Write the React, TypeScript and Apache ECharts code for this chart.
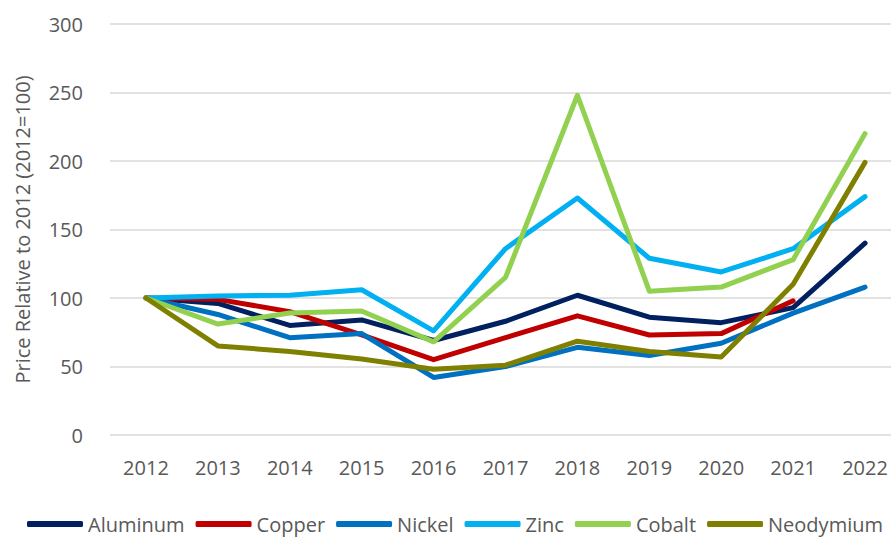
import React, { useEffect, useRef } from "react";
import * as echarts from "echarts";

const years = ["2012", "2013", "2014", "2015", "2016", "2017", "2018", "2019", "2020", "2021", "2022"];
const aluminum = [100, 96, 80, 84, 69, 83, 102, 86, 82, 93, 140];
const copper = [100, 99, 90, 73, 55, 71, 87, 73, 74, 98, null];
const nickel = [100, 88, 71, 74, 42, 50, 64, 58, 67, 89, 108];
const zinc = [100, 101.5, 102, 106, 76, 136, 173, 129, 119, 136, 174];
const cobalt = [100, 81, 89, 90.5, 68, 115, 248, 105, 108, 128, 220];
const neodymium = [100, 65, 61, 55.5, 48, 51, 68.5, 61, 57, 110, 199];

const seriesDefs = [
  { name: "Aluminum", data: aluminum, color: "#002060" },
  { name: "Copper", data: copper, color: "#C00000" },
  { name: "Nickel", data: nickel, color: "#0070C0" },
  { name: "Zinc", data: zinc, color: "#00B0F0" },
  { name: "Cobalt", data: cobalt, color: "#92D050" },
  { name: "Neodymium", data: neodymium, color: "#808000" },
];

const FONT = "Open Sans";
const TXT = "#595959";

export default function App() {
  const ref = useRef<HTMLDivElement>(null);
  useEffect(() => {
    if (!ref.current) return;
    const chart = echarts.init(ref.current, undefined, { renderer: "svg" });
    chart.setOption({
      animation: false,
      textStyle: { fontFamily: FONT },
      grid: { left: 110, right: 0, top: 24, bottom: 104 },
      legend: {
        top: 509,
        left: 22,
        icon: "roundRect",
        itemWidth: 56,
        itemHeight: 6,
        itemGap: 11,
        textStyle: { fontFamily: FONT, fontSize: 20, color: TXT },
        data: seriesDefs.map((s) => s.name),
      },
      xAxis: {
        type: "category",
        data: years,
        boundaryGap: true,
        axisLine: { show: false },
        axisTick: { show: false },
        axisLabel: { fontFamily: FONT, fontSize: 20, color: TXT, margin: 22 },
      },
      yAxis: {
        type: "value",
        min: 0,
        max: 300,
        interval: 50,
        name: "Price Relative to 2012 (2012=100)",
        nameLocation: "middle",
        nameGap: 78,
        nameTextStyle: { fontFamily: FONT, fontSize: 20, color: TXT },
        axisLine: { show: false },
        axisTick: { show: false },
        axisLabel: { fontFamily: FONT, fontSize: 20, color: TXT, margin: 27 },
        splitLine: { lineStyle: { color: "#d9d9d9", width: 1.5 } },
      },
      series: seriesDefs.map((s) => ({
        name: s.name,
        type: "line",
        data: s.data,
        showSymbol: false,
        symbol: "none",
        color: s.color,
        lineStyle: { width: 5, color: s.color, cap: "round", join: "round" },
        itemStyle: { color: s.color },
      })),
    });
    return () => chart.dispose();
  }, []);
  return (
    <div style={{ width: 891, height: 539, position: "absolute", left: 0, top: 0, overflow: "hidden" }}>
      <div ref={ref} style={{ width: 901, height: 539 }} />
    </div>
  );
}
